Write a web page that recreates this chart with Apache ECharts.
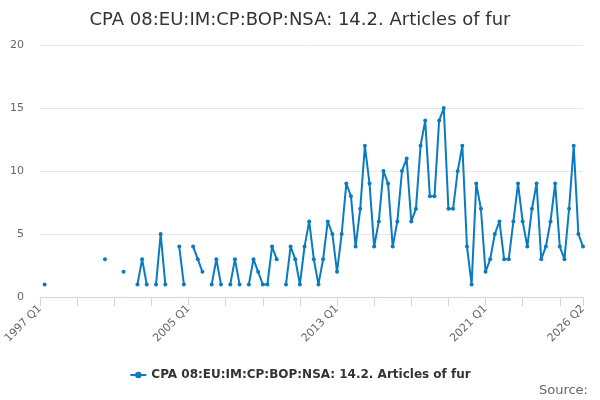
<!DOCTYPE html>
<html>
<head>
<meta charset="utf-8">
<script src="https://cdn.jsdelivr.net/npm/echarts@6/dist/echarts.min.js"></script>
<style>
html,body{margin:0;padding:0;background:#fff;}
#chart{width:600px;height:400px;}
</style>
</head>
<body>
<div id="chart"></div>
<script>
var seriesName = 'CPA 08:EU:IM:CP:BOP:NSA: 14.2. Articles of fur';
var titleText = 'CPA 08:EU:IM:CP:BOP:NSA: 14.2. Articles of fur';
var firstYear = 1997;
var lastYear = 2026;
var lastQuarter = 2;
var yTicks = [0, 5, 10, 15, 20];
var shownLabels = ['1997 Q1', '2005 Q1', '2013 Q1', '2021 Q1', '2026 Q2'];

var categories = [];
for (var y = firstYear; y <= lastYear; y++) {
  for (var q = 1; q <= 4; q++) {
    if (y === lastYear && q > lastQuarter) break;
    categories.push(y + ' Q' + q);
  }
}

var values = [
  /*1997*/ null, 1, null, null,
  /*1998*/ null, null, null, null,
  /*1999*/ null, null, null, null,
  /*2000*/ null, null, 3, null,
  /*2001*/ null, null, 2, null,
  /*2002*/ null, 1, 3, 1,
  /*2003*/ null, 1, 5, 1,
  /*2004*/ null, null, 4, 1,
  /*2005*/ null, 4, 3, 2,
  /*2006*/ null, 1, 3, 1,
  /*2007*/ null, 1, 3, 1,
  /*2008*/ null, 1, 3, 2,
  /*2009*/ 1, 1, 4, 3,
  /*2010*/ null, 1, 4, 3,
  /*2011*/ 1, 4, 6, 3,
  /*2012*/ 1, 3, 6, 5,
  /*2013*/ 2, 5, 9, 8,
  /*2014*/ 4, 7, 12, 9,
  /*2015*/ 4, 6, 10, 9,
  /*2016*/ 4, 6, 10, 11,
  /*2017*/ 6, 7, 12, 14,
  /*2018*/ 8, 8, 14, 15,
  /*2019*/ 7, 7, 10, 12,
  /*2020*/ 4, 1, 9, 7,
  /*2021*/ 2, 3, 5, 6,
  /*2022*/ 3, 3, 6, 9,
  /*2023*/ 6, 4, 7, 9,
  /*2024*/ 3, 4, 6, 9,
  /*2025*/ 4, 3, 7, 12,
  /*2026*/ 5, 4
];

var lastIdx = categories.length - 1;
var chart = echarts.init(document.getElementById('chart'));
chart.setOption({
  animation: false,
  textStyle: { fontFamily: 'DejaVu Sans' },
  title: {
    text: titleText,
    left: 'center',
    top: 6,
    textStyle: { fontFamily: 'DejaVu Sans', fontSize: 18, fontWeight: 'normal', color: '#333333' }
  },
  legend: {
    data: [seriesName],
    bottom: 14,
    left: 'center',
    itemWidth: 16,
    itemHeight: 8,
    itemGap: 5,
    textStyle: { fontFamily: 'DejaVu Sans', fontSize: 12, fontWeight: 'bold', color: '#333333' }
  },
  graphic: [{
    type: 'text',
    right: 12,
    bottom: 3,
    style: { text: 'Source:', fontFamily: 'DejaVu Sans', fontSize: 13, fill: '#666666' }
  }],
  grid: { left: 40, right: 17, top: 45, bottom: 103, containLabel: false },
  xAxis: {
    type: 'category',
    data: categories,
    boundaryGap: false,
    axisLine: { lineStyle: { color: '#ccd6eb' } },
    axisTick: {
      alignWithLabel: true,
      length: 9,
      lineStyle: { color: '#ccd6eb' },
      interval: function (i) { return i % 8 === 0 || i === lastIdx; }
    },
    axisLabel: {
      rotate: 45,
      color: '#666666',
      fontSize: 11,
      margin: 10,
      interval: function (i, v) { return shownLabels.indexOf(v) >= 0; }
    }
  },
  yAxis: {
    type: 'value',
    min: yTicks[0],
    max: yTicks[yTicks.length - 1],
    interval: 5,
    axisLine: { show: false },
    axisTick: { show: false },
    axisLabel: { color: '#666666', fontSize: 11, margin: 16 },
    splitLine: { lineStyle: { color: '#e6e6e6' } }
  },
  series: [{
    name: seriesName,
    type: 'line',
    data: values,
    connectNulls: false,
    showSymbol: true,
    showAllSymbol: true,
    symbol: 'circle',
    symbolSize: 4,
    color: '#0a7bc1',
    lineStyle: { width: 2, color: '#0a7bc1' },
    itemStyle: { color: '#0a7bc1' }
  }]
});
</script>
</body>
</html>
